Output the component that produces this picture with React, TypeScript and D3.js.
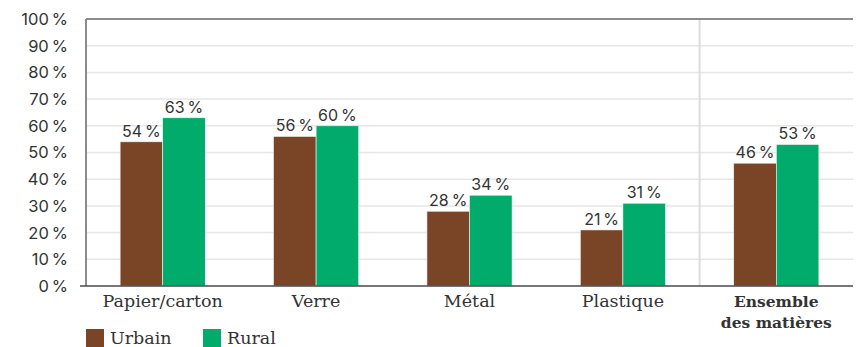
import React from "react";
import * as d3 from "d3";

const categories = ["Papier/carton", "Verre", "Métal", "Plastique", "Ensemble des matières"];
const urbain = [54, 56, 28, 21, 46];
const rural = [63, 60, 34, 31, 53];
const ticks = [0, 10, 20, 30, 40, 50, 60, 70, 80, 90, 100];
const seriesNames = ["Urbain", "Rural"];
const colors = ["#7a4426", "#00ab6c"];

export default function App() {
  const W = 856, H = 347;
  const left = 86, right = 853, top = 19, bottom = 286;
  const x = d3.scaleBand<string>().domain(categories).range([left, right]).paddingInner(0).paddingOuter(0);
  const y = d3.scaleLinear().domain([0, 100]).range([bottom, top]);
  const groupW = x.bandwidth() * 0.555;
  const inner = d3
    .scaleBand<string>()
    .domain(seriesNames)
    .range([(x.bandwidth() - groupW) / 2, (x.bandwidth() + groupW) / 2]);
  const sepX = x(categories[4])!;
  const tickFont = "Inter, 'Noto Sans', sans-serif";
  const catFont = "'DejaVu Serif', serif";
  return (
    <svg width={W} height={H} style={{ position: "absolute", left: 0, top: 0 }}>
      <rect width={W} height={H} fill="#fff" />
      {ticks.map((t) => (
        <g key={t}>
          {t > 0 && t < 100 && (
            <line x1={left} x2={right} y1={y(t)} y2={y(t)} stroke="#e6e6e6" strokeWidth={1.5} />
          )}
          <text x={68} y={y(t)} dy="0.36em" textAnchor="end" fontFamily={tickFont} fontSize={16.5} fill="#333">
            {t}{"\u2009%"}
          </text>
        </g>
      ))}
      <line x1={sepX} x2={sepX} y1={top} y2={bottom} stroke="#dcdcdc" strokeWidth={2} />
      {categories.map((c, i) =>
        [urbain[i], rural[i]].map((v, j) => {
          const bx = x(c)! + inner(seriesNames[j])!;
          return (
            <g key={c + j}>
              <rect x={bx} y={y(v)} width={inner.bandwidth()} height={bottom - y(v)} fill={colors[j]} stroke="#f4f4f4" strokeWidth={0.6} />
              <text x={bx + inner.bandwidth() / 2} y={y(v) - 5} textAnchor="middle" fontFamily={tickFont} fontSize={16} fill="#333">
                {v}{"\u2009%"}
              </text>
            </g>
          );
        })
      )}
      <line x1={left} x2={right} y1={top} y2={top} stroke="#8c8c8c" strokeWidth={2} />
      <line x1={left} x2={left} y1={top} y2={bottom} stroke="#8c8c8c" strokeWidth={2} />
      <line x1={left - 6} x2={right} y1={bottom} y2={bottom} stroke="#4a4a4a" strokeWidth={1.5} />
      {categories.map((c, i) => {
        const cx = x(c)! + x.bandwidth() / 2;
        if (i === 4) {
          return (
            <text key={c} x={cx} textAnchor="middle" fontFamily={catFont} fontSize={15.5} fontWeight="bold" fill="#333">
              <tspan x={cx} y={307}>Ensemble</tspan>
              <tspan x={cx} y={328}>des matières</tspan>
            </text>
          );
        }
        return (
          <text key={c} x={cx} y={307} textAnchor="middle" fontFamily={catFont} fontSize={17.5} fill="#333">
            {c}
          </text>
        );
      })}
      {seriesNames.map((s, j) => {
        const lx = 86 + j * 117;
        return (
          <g key={s}>
            <rect x={lx} y={329} width={18} height={18} fill={colors[j]} />
            <text x={lx + 24} y={344} fontFamily={catFont} fontSize={17.5} fill="#333">{s}</text>
          </g>
        );
      })}
    </svg>
  );
}
